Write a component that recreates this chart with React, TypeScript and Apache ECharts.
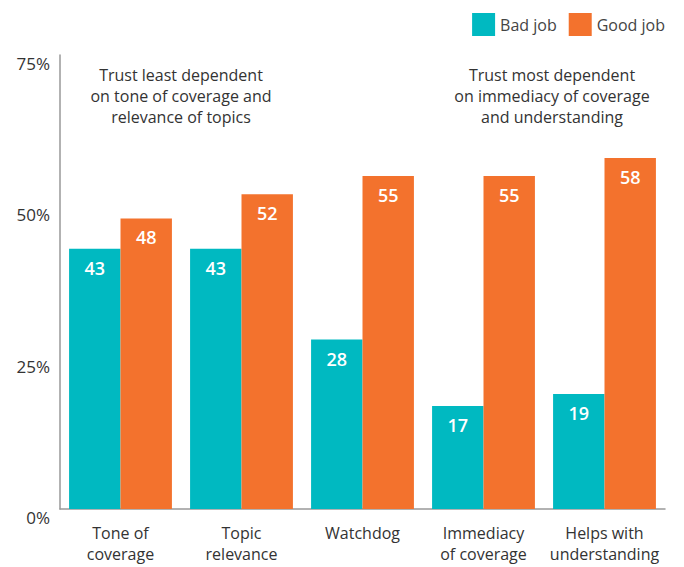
import React, { useEffect, useRef } from "react";
import * as echarts from "echarts";

const categories = ["Tone of\ncoverage", "Topic\nrelevance", "Watchdog", "Immediacy\nof coverage", "Helps with\nunderstanding"];
const badJob = [43, 43, 28, 17, 19];
const goodJob = [48, 52, 55, 55, 58];
const yTicks = [0, 25, 50, 75];
const noteLeft = "Trust least dependent\non tone of coverage and\nrelevance of topics";
const noteRight = "Trust most dependent\non immediacy of coverage\nand understanding";

const FONT = "'Open Sans', sans-serif";
const TEAL = "#00b9c1";
const ORANGE = "#f3722d";

export default function App() {
  const ref = useRef<HTMLDivElement>(null);
  useEffect(() => {
    const chart = echarts.init(ref.current!, null, { renderer: "svg" });
    const label = {
      show: true,
      position: "insideTop" as const,
      distance: 10,
      color: "#fff",
      fontSize: 18,
      fontWeight: 600,
      fontFamily: FONT,
    };
    chart.setOption({
      animation: false,
      textStyle: { fontFamily: FONT },
      legend: {
        top: 8,
        right: 14,
        itemWidth: 23,
        itemHeight: 23,
        itemGap: 12,
        icon: "rect",
        textStyle: { fontSize: 16, color: "#444", fontFamily: FONT },
        data: ["Bad job", "Good job"],
      },
      grid: { left: 60, right: 19, top: 55, bottom: 58 },
      xAxis: {
        type: "category",
        data: categories,
        axisLine: { lineStyle: { color: "#999", width: 1.5 } },
        axisTick: { show: false },
        axisLabel: { interval: 0, align: "center", fontSize: 16, color: "#333", lineHeight: 21, margin: 13, fontFamily: FONT },
      },
      yAxis: {
        type: "value",
        min: 0,
        max: 75,
        interval: 25,
        splitLine: { show: false },
        axisLine: { show: true, lineStyle: { color: "#999", width: 1.5 } },
        axisTick: { show: false },
        axisLabel: {
          formatter: (v: number) => (yTicks.includes(v) ? v + "%" : ""),
          fontSize: 17,
          color: "#333",
          verticalAlign: "top",
          margin: 10,
          fontFamily: FONT,
        },
      },
      series: [
        { name: "Bad job", type: "bar", data: badJob, itemStyle: { color: TEAL }, barGap: "0%", barCategoryGap: "15%", label },
        { name: "Good job", type: "bar", data: goodJob, itemStyle: { color: ORANGE }, barGap: "0%", barCategoryGap: "15%", label },
      ],
      graphic: [
        {
          type: "text",
          x: 181,
          y: 64,
          style: { text: noteLeft, textAlign: "center", fontSize: 16, lineHeight: 21, fill: "#333", fontFamily: FONT },
        },
        {
          type: "text",
          x: 552,
          y: 64,
          style: { text: noteRight, textAlign: "center", fontSize: 16, lineHeight: 21, fill: "#333", fontFamily: FONT },
        },
      ],
    });
    return () => chart.dispose();
  }, []);
  return <div ref={ref} style={{ position: "absolute", left: 0, top: 0, width: 684, height: 567 }} />;
}
